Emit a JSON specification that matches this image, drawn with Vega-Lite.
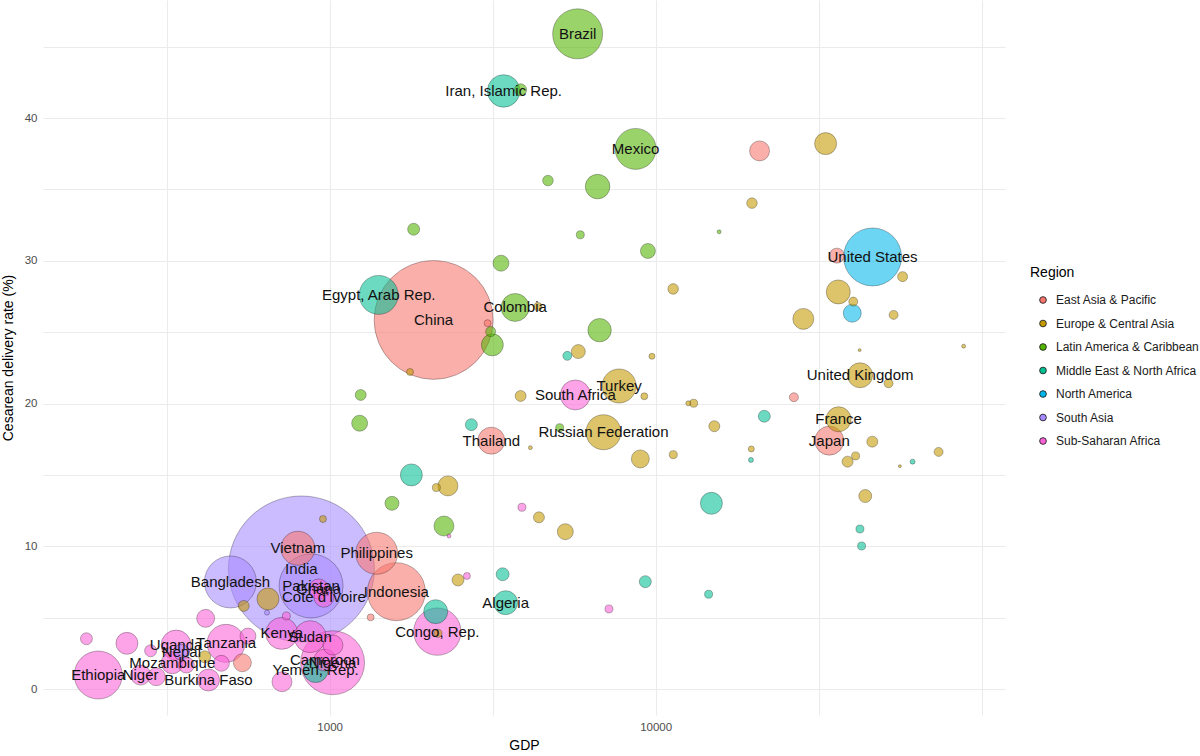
{
  "$schema": "https://vega.github.io/schema/vega-lite/v6.json",
  "width": 962,
  "height": 715,
  "autosize": {"type": "none"},
  "padding": {"left": 43, "top": 0, "right": 195, "bottom": 41},
  "background": "white",
  "config": {
    "view": {"stroke": null},
    "font": "Liberation Sans",
    "axis": {"domain": false, "ticks": false, "tickSize": 0, "gridColor": "#ebebeb", "gridWidth": 1.1, "labelColor": "#4d4d4d", "labelFontSize": 11.5, "titleColor": "#000000", "titleFontSize": 14, "titleFontWeight": "normal", "labelFont": "Liberation Sans", "titleFont": "Liberation Sans"}
  },
  "data": {"values": [
    {"country": "India", "region": "South Asia", "gdp": 819, "rate": 8.41, "births": 27180},
    {"country": "China", "region": "East Asia & Pacific", "gdp": 2084, "rate": 25.86, "births": 18055},
    {"country": "Pakistan", "region": "South Asia", "gdp": 877, "rate": 7.22, "births": 5222},
    {"country": "Nigeria", "region": "Sub-Saharan Africa", "gdp": 1021, "rate": 1.84, "births": 5222},
    {"country": "United States", "region": "North America", "gdp": 46300, "rate": 30.27, "births": 4290},
    {"country": "Indonesia", "region": "East Asia & Pacific", "gdp": 1602, "rate": 6.82, "births": 4289},
    {"country": "Bangladesh", "region": "South Asia", "gdp": 496, "rate": 7.5, "births": 3448},
    {"country": "Brazil", "region": "Latin America & Caribbean", "gdp": 5765, "rate": 45.9, "births": 3190},
    {"country": "Ethiopia", "region": "Sub-Saharan Africa", "gdp": 195, "rate": 0.98, "births": 2938},
    {"country": "Congo, Rep.", "region": "Sub-Saharan Africa", "gdp": 2140, "rate": 4.02, "births": 2865},
    {"country": "Philippines", "region": "East Asia & Pacific", "gdp": 1394, "rate": 9.51, "births": 2249},
    {"country": "Mexico", "region": "Latin America & Caribbean", "gdp": 8683, "rate": 37.84, "births": 2143},
    {"country": "Egypt, Arab Rep.", "region": "Middle East & North Africa", "gdp": 1414, "rate": 27.61, "births": 1940},
    {"country": "Tanzania", "region": "Sub-Saharan Africa", "gdp": 481, "rate": 3.2, "births": 1841},
    {"country": "Russian Federation", "region": "Europe & Central Asia", "gdp": 6918, "rate": 17.99, "births": 1562},
    {"country": "Vietnam", "region": "East Asia & Pacific", "gdp": 799, "rate": 9.86, "births": 1474},
    {"country": "Turkey", "region": "Europe & Central Asia", "gdp": 7727, "rate": 21.23, "births": 1474},
    {"country": "Iran, Islamic Rep.", "region": "Middle East & North Africa", "gdp": 3418, "rate": 41.9, "births": 1355},
    {"country": "Kenya", "region": "Sub-Saharan Africa", "gdp": 713, "rate": 3.9, "births": 1306},
    {"country": "Sudan", "region": "Sub-Saharan Africa", "gdp": 871, "rate": 3.67, "births": 1306},
    {"country": "South Africa", "region": "Sub-Saharan Africa", "gdp": 5672, "rate": 20.6, "births": 1148},
    {"country": "Uganda", "region": "Sub-Saharan Africa", "gdp": 338, "rate": 3.08, "births": 1148},
    {"country": "Japan", "region": "East Asia & Pacific", "gdp": 34110, "rate": 17.4, "births": 1072},
    {"country": "Colombia", "region": "Latin America & Caribbean", "gdp": 3707, "rate": 26.73, "births": 1000},
    {"country": "Thailand", "region": "East Asia & Pacific", "gdp": 3133, "rate": 17.4, "births": 930},
    {"country": "United Kingdom", "region": "Europe & Central Asia", "gdp": 42400, "rate": 21.98, "births": 797},
    {"country": "France", "region": "Europe & Central Asia", "gdp": 36420, "rate": 18.9, "births": 797},
    {"country": "Yemen, Rep.", "region": "Middle East & North Africa", "gdp": 906, "rate": 1.33, "births": 797},
    {"region": "Latin America & Caribbean", "gdp": 6638, "rate": 35.2, "births": 772},
    {"country": "Algeria", "region": "Middle East & North Africa", "gdp": 3467, "rate": 6.05, "births": 734},
    {"region": "Middle East & North Africa", "gdp": 2115, "rate": 5.42, "births": 734},
    {"region": "Europe & Central Asia", "gdp": 36340, "rate": 27.82, "births": 734},
    {"region": "Latin America & Caribbean", "gdp": 6732, "rate": 25.14, "births": 698},
    {"region": "Europe & Central Asia", "gdp": 33230, "rate": 38.21, "births": 617},
    {"region": "Latin America & Caribbean", "gdp": 3156, "rate": 24.11, "births": 617},
    {"region": "Middle East & North Africa", "gdp": 1781, "rate": 15.0, "births": 617},
    {"region": "Middle East & North Africa", "gdp": 14830, "rate": 13.01, "births": 617},
    {"country": "Mozambique", "region": "Sub-Saharan Africa", "gdp": 329, "rate": 1.84, "births": 617},
    {"country": "Burkina Faso", "region": "Sub-Saharan Africa", "gdp": 425, "rate": 0.63, "births": 617},
    {"country": "Cameroon", "region": "Sub-Saharan Africa", "gdp": 967, "rate": 2.03, "births": 617},
    {"region": "Sub-Saharan Africa", "gdp": 238.8, "rate": 3.2, "births": 617},
    {"region": "Europe & Central Asia", "gdp": 646.8, "rate": 6.31, "births": 617},
    {"region": "Europe & Central Asia", "gdp": 28390, "rate": 25.93, "births": 562},
    {"region": "East Asia & Pacific", "gdp": 20840, "rate": 37.7, "births": 510},
    {"region": "Europe & Central Asia", "gdp": 2306, "rate": 14.23, "births": 510},
    {"region": "Latin America & Caribbean", "gdp": 2242, "rate": 11.42, "births": 510},
    {"country": "Ghana", "region": "Sub-Saharan Africa", "gdp": 925, "rate": 7.01, "births": 510},
    {"country": "Cote d'Ivoire", "region": "Sub-Saharan Africa", "gdp": 960, "rate": 6.43, "births": 510},
    {"country": "Niger", "region": "Sub-Saharan Africa", "gdp": 263, "rate": 0.98, "births": 510},
    {"region": "Sub-Saharan Africa", "gdp": 1023.5, "rate": 3.08, "births": 510},
    {"region": "Sub-Saharan Africa", "gdp": 714, "rate": 0.51, "births": 510},
    {"region": "Europe & Central Asia", "gdp": 8977, "rate": 16.12, "births": 413},
    {"region": "North America", "gdp": 40120, "rate": 26.33, "births": 413},
    {"region": "Sub-Saharan Africa", "gdp": 293.9, "rate": 0.86, "births": 413},
    {"region": "Sub-Saharan Africa", "gdp": 416.5, "rate": 4.95, "births": 413},
    {"region": "East Asia & Pacific", "gdp": 539.9, "rate": 1.84, "births": 413},
    {"region": "Latin America & Caribbean", "gdp": 3354, "rate": 29.83, "births": 326},
    {"region": "Latin America & Caribbean", "gdp": 1236, "rate": 18.62, "births": 326},
    {"region": "Europe & Central Asia", "gdp": 5284, "rate": 11.02, "births": 326},
    {"country": "Nepal", "region": "South Asia", "gdp": 351, "rate": 2.57, "births": 326},
    {"region": "Sub-Saharan Africa", "gdp": 363.4, "rate": 1.68, "births": 326},
    {"region": "Sub-Saharan Africa", "gdp": 465.4, "rate": 1.8, "births": 326},
    {"region": "Sub-Saharan Africa", "gdp": 561.6, "rate": 3.71, "births": 326},
    {"region": "Latin America & Caribbean", "gdp": 9471, "rate": 30.69, "births": 287},
    {"region": "East Asia & Pacific", "gdp": 35980, "rate": 30.36, "births": 287},
    {"region": "Latin America & Caribbean", "gdp": 1553, "rate": 13.01, "births": 250},
    {"region": "Europe & Central Asia", "gdp": 5793, "rate": 23.64, "births": 250},
    {"region": "Middle East & North Africa", "gdp": 3394, "rate": 8.04, "births": 215},
    {"region": "Europe & Central Asia", "gdp": 43970, "rate": 13.52, "births": 215},
    {"region": "Latin America & Caribbean", "gdp": 3854, "rate": 41.98, "births": 184},
    {"region": "Latin America & Caribbean", "gdp": 1810, "rate": 32.21, "births": 184},
    {"region": "Middle East & North Africa", "gdp": 2721, "rate": 18.52, "births": 184},
    {"region": "Europe & Central Asia", "gdp": 2476, "rate": 7.64, "births": 184},
    {"region": "Middle East & North Africa", "gdp": 9299, "rate": 7.52, "births": 184},
    {"region": "Middle East & North Africa", "gdp": 21550, "rate": 19.11, "births": 184},
    {"region": "Sub-Saharan Africa", "gdp": 179.4, "rate": 3.52, "births": 184},
    {"region": "Sub-Saharan Africa", "gdp": 282.3, "rate": 2.68, "births": 184},
    {"region": "Europe & Central Asia", "gdp": 413.6, "rate": 2.26, "births": 184},
    {"region": "Latin America & Caribbean", "gdp": 1245, "rate": 20.6, "births": 154},
    {"region": "Europe & Central Asia", "gdp": 3854, "rate": 20.53, "births": 154},
    {"region": "Europe & Central Asia", "gdp": 4386, "rate": 12.03, "births": 154},
    {"region": "Europe & Central Asia", "gdp": 15140, "rate": 18.41, "births": 154},
    {"region": "Europe & Central Asia", "gdp": 46210, "rate": 17.33, "births": 154},
    {"region": "Europe & Central Asia", "gdp": 38810, "rate": 15.93, "births": 154},
    {"region": "Europe & Central Asia", "gdp": 544.9, "rate": 5.82, "births": 154},
    {"region": "Latin America & Caribbean", "gdp": 4674, "rate": 35.62, "births": 143},
    {"region": "Europe & Central Asia", "gdp": 19750, "rate": 34.04, "births": 143},
    {"region": "Europe & Central Asia", "gdp": 11320, "rate": 28.03, "births": 143},
    {"region": "Latin America & Caribbean", "gdp": 3118, "rate": 25.04, "births": 128},
    {"region": "Europe & Central Asia", "gdp": 57250, "rate": 28.89, "births": 128},
    {"region": "Middle East & North Africa", "gdp": 5359, "rate": 23.34, "births": 103},
    {"region": "East Asia & Pacific", "gdp": 26560, "rate": 20.44, "births": 103},
    {"region": "Europe & Central Asia", "gdp": 40400, "rate": 27.14, "births": 103},
    {"region": "Europe & Central Asia", "gdp": 53720, "rate": 26.21, "births": 103},
    {"region": "Europe & Central Asia", "gdp": 51840, "rate": 21.42, "births": 103},
    {"region": "Europe & Central Asia", "gdp": 73820, "rate": 16.61, "births": 103},
    {"region": "Latin America & Caribbean", "gdp": 5875, "rate": 31.82, "births": 82},
    {"region": "Europe & Central Asia", "gdp": 4355, "rate": 26.79, "births": 82},
    {"region": "Europe & Central Asia", "gdp": 2125, "rate": 14.11, "births": 82},
    {"region": "Sub-Saharan Africa", "gdp": 3890, "rate": 12.73, "births": 82},
    {"region": "Middle East & North Africa", "gdp": 14540, "rate": 6.64, "births": 82},
    {"region": "Sub-Saharan Africa", "gdp": 7192, "rate": 5.61, "births": 82},
    {"region": "Europe & Central Asia", "gdp": 2149, "rate": 3.9, "births": 82},
    {"region": "Europe & Central Asia", "gdp": 13080, "rate": 20.02, "births": 82},
    {"region": "Latin America & Caribbean", "gdp": 5077, "rate": 18.31, "births": 82},
    {"region": "Europe & Central Asia", "gdp": 11330, "rate": 16.42, "births": 82},
    {"region": "Europe & Central Asia", "gdp": 41070, "rate": 16.33, "births": 82},
    {"region": "Middle East & North Africa", "gdp": 42350, "rate": 11.21, "births": 82},
    {"region": "Middle East & North Africa", "gdp": 42850, "rate": 10.02, "births": 82},
    {"region": "Sub-Saharan Africa", "gdp": 736.5, "rate": 5.12, "births": 82},
    {"region": "East Asia & Pacific", "gdp": 3052, "rate": 25.63, "births": 62},
    {"region": "Europe & Central Asia", "gdp": 1764, "rate": 22.21, "births": 62},
    {"region": "Sub-Saharan Africa", "gdp": 2637, "rate": 7.92, "births": 62},
    {"region": "Europe & Central Asia", "gdp": 9233, "rate": 20.51, "births": 62},
    {"region": "Europe & Central Asia", "gdp": 953.7, "rate": 11.91, "births": 62},
    {"region": "East Asia & Pacific", "gdp": 1336, "rate": 5.02, "births": 62},
    {"region": "Europe & Central Asia", "gdp": 9743, "rate": 23.31, "births": 46},
    {"region": "Europe & Central Asia", "gdp": 19660, "rate": 16.82, "births": 46},
    {"region": "Europe & Central Asia", "gdp": 12600, "rate": 20.02, "births": 32},
    {"region": "Middle East & North Africa", "gdp": 19610, "rate": 16.05, "births": 32},
    {"region": "Middle East & North Africa", "gdp": 61420, "rate": 15.93, "births": 32},
    {"region": "South Asia", "gdp": 642.3, "rate": 5.35, "births": 32},
    {"region": "Latin America & Caribbean", "gdp": 15660, "rate": 32.03, "births": 20},
    {"region": "Europe & Central Asia", "gdp": 4128, "rate": 16.91, "births": 20},
    {"region": "Sub-Saharan Africa", "gdp": 2323, "rate": 10.72, "births": 20},
    {"region": "Europe & Central Asia", "gdp": 88090, "rate": 24.02, "births": 20},
    {"region": "Europe & Central Asia", "gdp": 42260, "rate": 23.74, "births": 11},
    {"region": "Europe & Central Asia", "gdp": 56160, "rate": 15.61, "births": 11}
  ]},
  "encoding": {
    "x": {"field": "gdp", "type": "quantitative", "title": "GDP",
      "scale": {"type": "log", "domain": [132, 118000], "nice": false},
      "axis": {"values": [316.23, 1000, 3162.3, 10000, 31623, 100000], "format": "d", "labelExpr": "datum.value === 1000 || datum.value === 10000 ? datum.label : ''", "labelPadding": 6, "titlePadding": 6}},
    "y": {"field": "rate", "type": "quantitative", "title": "Cesarean delivery rate (%)",
      "scale": {"domain": [-1.82, 48.27], "nice": false, "zero": false},
      "axis": {"values": [0, 5, 10, 15, 20, 25, 30, 35, 40, 45], "labelExpr": "datum.value % 10 === 0 ? datum.label : ''", "labelPadding": 6, "titlePadding": 9}}
  },
  "layer": [
    {
      "mark": {"type": "circle", "fillOpacity": 0.58, "stroke": "#000000", "strokeOpacity": 0.35, "strokeWidth": 0.8},
      "encoding": {
        "color": {"field": "region", "type": "nominal", "title": "Region",
          "scale": {"domain": ["East Asia & Pacific", "Europe & Central Asia", "Latin America & Caribbean", "Middle East & North Africa", "North America", "South Asia", "Sub-Saharan Africa"],
            "range": ["#F8766D", "#C49A00", "#53B400", "#00C094", "#00B6EB", "#A58AFF", "#FB61D7"]},
          "legend": {"orient": "none", "legendX": 987, "legendY": 266, "titleFontSize": 14, "titleFontWeight": "normal", "titleColor": "#000000", "titleFont": "Liberation Sans", "titlePadding": 14, "labelFontSize": 12, "labelColor": "#1a1a1a", "labelFont": "Liberation Sans", "symbolType": "circle", "symbolSize": 45, "symbolOpacity": 1, "symbolStrokeColor": "#222222", "symbolStrokeWidth": 0.9, "symbolOffset": 7, "labelOffset": 7, "rowPadding": 11.5}},
        "size": {"field": "births", "type": "quantitative", "scale": {"type": "linear", "domain": [0, 25000], "range": [0, 19600]}, "legend": null}
      }
    },
    {
      "transform": [{"filter": "isValid(datum.country)"}],
      "mark": {"type": "text", "fontSize": 15, "font": "Liberation Sans", "color": "#111111", "align": "center", "baseline": "middle"},
      "encoding": {"text": {"field": "country", "type": "nominal"}}
    }
  ]
}
